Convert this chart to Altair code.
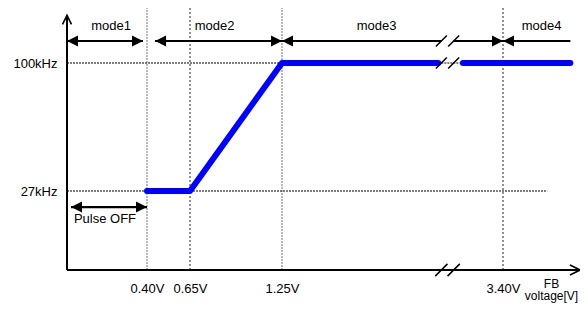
import altair as alt
import pandas as pd

FONT = "Liberation Sans"

# ---- axis values ----
TICK_V = [0.40, 0.65, 1.25, 3.40]
FREQ_KHZ = [27, 100]
V_MAX = 3.8          # end of x axis arrow
F_AXIS_TOP = 126     # tip of y axis arrow
F_TOP = 130          # top of the frame
BREAK_V = [2.80, 2.92]

# ---- curve (FB voltage [V] -> frequency [kHz]) ----
CURVE1_V = [0.40, 0.65, 1.25, 2.77]
CURVE1_F = [27, 27, 100, 100]
CURVE2_V = [3.01, 3.75]
CURVE2_F = [100, 100]
GAP_V = [2.80, 2.98]

# ---- reference lines ----
GRID_GRAY_V = [0.40, 1.25]
GRID_BLACK_V = [0.65, 3.40]
HLINE_F = [100, 27]
HLINE_END_V = [1.25, 3.63]

# ---- modes ----
MODE_NAMES = ["mode1", "mode2", "mode3", "mode4"]
MODE_LABEL_V = [0.22, 0.81, 2.17, 3.60]
MODE_LABEL_F = 120
MODE_ARROW_F = 112
MODE_SEG_START = [0.0, 0.447, 1.25, 2.92, 3.75]
MODE_SEG_END = [0.38, 1.25, 2.80, 3.40, 3.40]
HEAD_LEFT_V = [0.0, 0.447, 1.25, 3.40]
HEAD_RIGHT_V = [0.38, 1.25, 3.40]

PULSE_START = 0.02
PULSE_END = 0.40
PULSE_F = 21.5
PULSE_LABEL_V = 0.19
PULSE_LABEL_F = 17.4
PULSE_LABEL = "Pulse OFF"

xs = alt.Scale(domain=[0, 0.4, 0.65, 1.25, 3.4, 3.8],
               range=[0, 80, 123, 215, 436, 513], nice=False, zero=False)
ys = alt.Scale(domain=[0, 27, 100, 130], range=[262, 183, 55, 0],
               nice=False, zero=False)

x_axis = alt.Axis(values=TICK_V, labelExpr="format(datum.value, '.2f') + 'V'",
                  domain=False, ticks=False, tickSize=0, grid=False,
                  labelPadding=12, labelFont=FONT, labelFontSize=13,
                  labelColor="black", title=["FB", "voltage[V]"],
                  titleFont=FONT, titleFontSize=12, titleFontWeight="normal",
                  titleColor="black", titleX=484, titleY=8, titleAlign="center",
                  titleBaseline="top", titleLineHeight=12.5, labelFlush=False,
                  labelOverlap=False)
y_axis = alt.Axis(values=FREQ_KHZ, labelExpr="datum.value + 'kHz'",
                  domain=False, ticks=False, tickSize=0, grid=False,
                  labelPadding=10, labelFont=FONT, labelFontSize=13,
                  labelColor="black", title=None, labelOverlap=False)


def X(field="v"):
    return alt.X(f"{field}:Q", scale=xs, axis=x_axis)


def Y(field="f"):
    return alt.Y(f"{field}:Q", scale=ys, axis=y_axis)


def rules(df, **mk):
    return alt.Chart(df).mark_rule(**mk).encode(
        x=X("v"), x2="v2:Q", y=Y("f"), y2="f2:Q")


layers = []

# vertical dotted lines
layers.append(rules(pd.DataFrame({"v": GRID_GRAY_V, "v2": GRID_GRAY_V,
                                  "f": [0] * 2, "f2": [F_TOP] * 2}),
                    color="#8a8a8a", strokeWidth=1.2, strokeDash=[2, 1]))
layers.append(rules(pd.DataFrame({"v": GRID_BLACK_V, "v2": GRID_BLACK_V,
                                  "f": [0] * 2, "f2": [F_TOP] * 2}),
                    color="#222222", strokeWidth=1, strokeDash=[2, 2]))
# horizontal dotted lines
layers.append(rules(pd.DataFrame({"v": [0, 0], "v2": HLINE_END_V,
                                  "f": HLINE_F, "f2": HLINE_F}),
                    color="black", strokeWidth=1, strokeDash=[2, 1]))
layers.append(rules(pd.DataFrame({"v": [GAP_V[0]], "v2": [GAP_V[1]],
                                  "f": [100], "f2": [100]}),
                    color="black", strokeWidth=1, strokeDash=[2, 1]))

# axes lines
layers.append(rules(pd.DataFrame({"v": [0, 0], "v2": [V_MAX, 0],
                                  "f": [0, 0], "f2": [0, F_AXIS_TOP]}),
                    color="black", strokeWidth=2))
layers.append(alt.Chart(pd.DataFrame({"v": [V_MAX], "f": [0]})).mark_point(
    shape="M-2,-1 L0,0 L-2,1", filled=False, stroke="black", strokeWidth=1.6,
    size=100, opacity=1).encode(x=X(), y=Y()))
layers.append(alt.Chart(pd.DataFrame({"v": [0], "f": [F_AXIS_TOP]})).mark_point(
    shape="M-1,2 L0,0 L1,2", filled=False, stroke="black", strokeWidth=1.6,
    size=81, opacity=1).encode(x=X(), y=Y()))

# curve
curve = pd.DataFrame({"v": CURVE1_V + CURVE2_V, "f": CURVE1_F + CURVE2_F,
                      "seg": ["a"] * len(CURVE1_V) + ["b"] * len(CURVE2_V),
                      "o": list(range(len(CURVE1_V) + len(CURVE2_V)))})
layers.append(alt.Chart(curve).mark_line(
    color="#0000ff", strokeWidth=6, strokeCap="round", strokeJoin="round").encode(
    x=X(), y=Y(), detail="seg:N", order="o:Q"))

# mode arrows
layers.append(rules(pd.DataFrame({"v": MODE_SEG_START, "v2": MODE_SEG_END,
                                  "f": [MODE_ARROW_F] * 5,
                                  "f2": [MODE_ARROW_F] * 5}),
                    color="black", strokeWidth=2.2))
layers.append(rules(pd.DataFrame({"v": [PULSE_START], "v2": [PULSE_END],
                                  "f": [PULSE_F], "f2": [PULSE_F]}),
                    color="black", strokeWidth=2.2))
left_heads = pd.DataFrame({"v": HEAD_LEFT_V + [PULSE_START],
                           "f": [MODE_ARROW_F] * len(HEAD_LEFT_V) + [PULSE_F]})
right_heads = pd.DataFrame({"v": HEAD_RIGHT_V + [PULSE_END],
                            "f": [MODE_ARROW_F] * len(HEAD_RIGHT_V) + [PULSE_F]})
layers.append(alt.Chart(left_heads).mark_point(
    shape="M0,0 L2,-1 L2,1 Z", filled=True, color="black", strokeWidth=0,
    size=121, opacity=1).encode(x=X(), y=Y()))
layers.append(alt.Chart(right_heads).mark_point(
    shape="M0,0 L-2,-1 L-2,1 Z", filled=True, color="black", strokeWidth=0,
    size=121, opacity=1).encode(x=X(), y=Y()))

# break slashes
slash = pd.DataFrame({"v": BREAK_V * 3,
                      "f": [MODE_ARROW_F] * 2 + [100] * 2 + [0] * 2,
                      "s": [121, 121, 121, 121, 150, 150]})
layers.append(alt.Chart(slash).mark_point(
    shape="M-1,1 L1,-1", filled=False, stroke="black", strokeWidth=1.5,
    opacity=1).encode(x=X(), y=Y(), size=alt.Size("s:Q", scale=None, legend=None)))

# texts
texts = pd.DataFrame({"v": MODE_LABEL_V + [PULSE_LABEL_V],
                      "f": [MODE_LABEL_F] * 4 + [PULSE_LABEL_F],
                      "t": MODE_NAMES + [PULSE_LABEL]})
layers.append(alt.Chart(texts).mark_text(
    font=FONT, fontSize=13, color="black", align="center",
    baseline="middle").encode(x=X(), y=Y(), text="t:N"))

chart = alt.layer(*layers).properties(
    width=513, height=262,
    autosize=alt.AutoSizeParams(type="none"),
    padding={"left": 59, "top": 0, "right": 0, "bottom": 33},
    background="white",
).configure_view(stroke=None)

chart.save("out.html", embed_options={"renderer": "svg", "actions": False})
